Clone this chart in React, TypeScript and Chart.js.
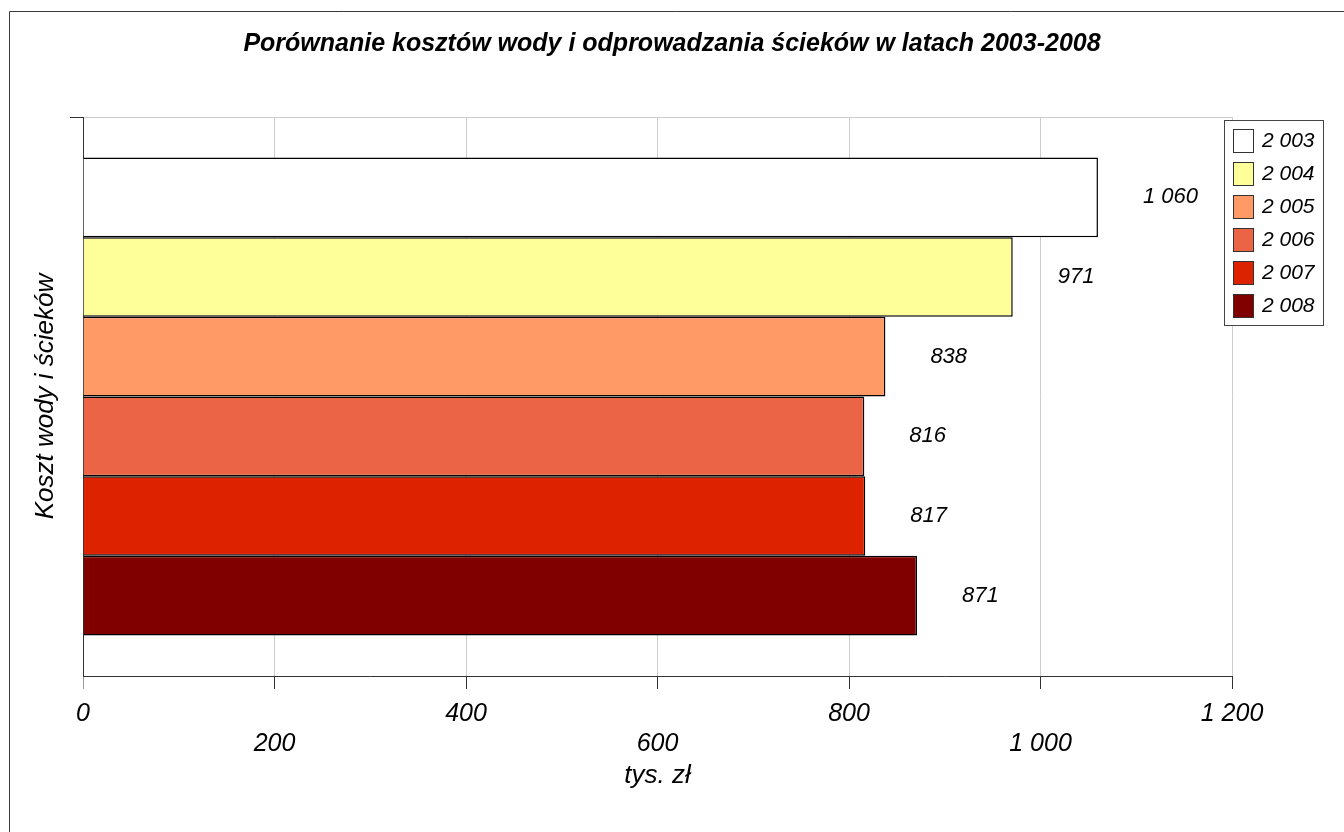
import React, { useEffect, useRef } from 'react';
import { Chart, registerables } from 'chart.js';

Chart.register(...registerables);

const chartTitle = 'Porównanie kosztów wody i odprowadzania ścieków w latach 2003-2008';
const categories = [''];
const years = [2003, 2004, 2005, 2006, 2007, 2008];
const values = [1060, 971, 838, 816, 817, 871];
const colors = ['#ffffff', '#ffff99', '#ff9966', '#ec6446', '#dd2200', '#800000'];
const xMin = 0;
const xMax = 1200;
const xStep = 200;
const yTitle = 'Koszt wody i ścieków';
const xTitle = 'tys. zł';

const FONT = "'Liberation Sans', Arial, sans-serif";
const fmt = (v: number) => String(v).replace(/\B(?=(\d{3})+(?!\d))/g, ' ');

export default function App() {
  const ref = useRef<HTMLCanvasElement>(null);

  useEffect(() => {
    const canvas = ref.current!;

    const frame = {
      id: 'frame',
      beforeDraw(chart: any) {
        const c = chart.ctx;
        c.save();
        c.fillStyle = '#ffffff';
        c.fillRect(0, 0, chart.width, chart.height);
        c.strokeStyle = '#3a3a3a';
        c.lineWidth = 1;
        c.beginPath();
        c.moveTo(9.5, chart.height);
        c.lineTo(9.5, 11.5);
        c.lineTo(chart.width, 11.5);
        c.stroke();
        c.restore();
      },
    };

    const titleText = {
      id: 'titleText',
      afterDraw(chart: any) {
        const c = chart.ctx;
        c.save();
        c.font = `italic bold 25px ${FONT}`;
        c.fillStyle = '#000';
        c.textAlign = 'center';
        c.textBaseline = 'alphabetic';
        c.fillText(chartTitle, chart.width / 2, 51);
        c.restore();
      },
    };

    const valueLabels = {
      id: 'valueLabels',
      afterDatasetsDraw(chart: any) {
        const c = chart.ctx;
        c.save();
        c.font = `italic 22px ${FONT}`;
        c.fillStyle = '#000';
        c.textAlign = 'left';
        c.textBaseline = 'middle';
        chart.data.datasets.forEach((ds: any, i: number) => {
          const meta = chart.getDatasetMeta(i);
          meta.data.forEach((el: any, j: number) => {
            c.fillText(fmt(ds.data[j]), el.x + 45, el.y);
          });
        });
        c.restore();
      },
    };

    const legendBox = {
      id: 'legendBox',
      afterDraw(chart: any) {
        const c = chart.ctx;
        const bx = 1224.5, by = 120.5, bw = 99, bh = 205;
        c.save();
        c.fillStyle = '#ffffff';
        c.fillRect(bx, by, bw, bh);
        c.strokeStyle = '#444';
        c.lineWidth = 1;
        c.strokeRect(bx, by, bw, bh);
        c.font = `italic 21px ${FONT}`;
        c.textAlign = 'left';
        c.textBaseline = 'middle';
        chart.data.datasets.forEach((ds: any, i: number) => {
          const y = 129.5 + i * 33;
          c.fillStyle = ds.backgroundColor;
          c.fillRect(1233.5, y, 20, 23);
          c.strokeStyle = '#333';
          c.strokeRect(1233.5, y, 20, 23);
          c.fillStyle = '#000';
          c.fillText(ds.label, 1262, y + 12);
        });
        c.restore();
      },
    };

    const chart = new Chart(canvas, {
      type: 'bar',
      data: {
        labels: categories,
        datasets: years.map((yr, i) => ({
          label: fmt(yr),
          data: [values[i]],
          backgroundColor: colors[i],
          borderColor: '#000000',
          borderWidth: 1.5,
          categoryPercentage: 0.855,
          barPercentage: 1,
        })),
      },
      options: {
        indexAxis: 'y',
        animation: false,
        responsive: false,
        layout: { padding: { top: 117, right: 112, bottom: 0, left: 0 } },
        plugins: {
          legend: { display: false },
          title: { display: false },
          tooltip: { enabled: false },
        },
        scales: {
          x: {
            type: 'linear',
            position: 'bottom',
            min: xMin,
            max: xMax,
            afterFit: (s: any) => { s.height = 156; },
            grid: {
              color: '#cccccc',
              tickColor: (c: any) => (c.index === 0 ? '#999' : '#333'),
              tickLength: 13,
            },
            border: { color: '#333', width: 1 },
            ticks: {
              stepSize: xStep,
              autoSkip: false,
              maxRotation: 0,
              color: '#000',
              padding: 10,
              font: { family: FONT, size: 25, style: 'italic', lineHeight: 1.2 },
              callback: (v: any, i: number) => (i % 2 === 0 ? [fmt(Number(v)), ''] : ['', fmt(Number(v))]),
            },
            title: {
              display: true,
              text: xTitle,
              color: '#000',
              font: { family: FONT, size: 26, style: 'italic', lineHeight: 1.2 },
              padding: { top: 0, bottom: 41 },
            },
          },
          y: {
            type: 'category',
            afterFit: (s: any) => { s.width = 83; },
            grid: {
              offset: true,
              color: (c: any) => (c.index === 0 ? '#cccccc' : 'rgba(0,0,0,0)'),
              tickColor: (c: any) => (c.index === 0 ? '#333' : 'rgba(0,0,0,0)'),
              tickLength: 13,
            },
            border: { color: '#333', width: 1 },
            ticks: { display: false },
            title: {
              display: true,
              text: yTitle,
              color: '#000',
              font: { family: FONT, size: 26, style: 'italic', lineHeight: 1.2 },
              padding: { top: 30, bottom: 0 },
            },
          },
        },
      },
      plugins: [frame, valueLabels, legendBox, titleText],
    } as any);

    return () => chart.destroy();
  }, []);

  return (
    <div style={{ position: 'fixed', left: 0, top: 0, width: 1344, height: 832, background: '#fff' }}>
      <canvas ref={ref} width={1344} height={832} style={{ display: 'block' }} />
    </div>
  );
}
